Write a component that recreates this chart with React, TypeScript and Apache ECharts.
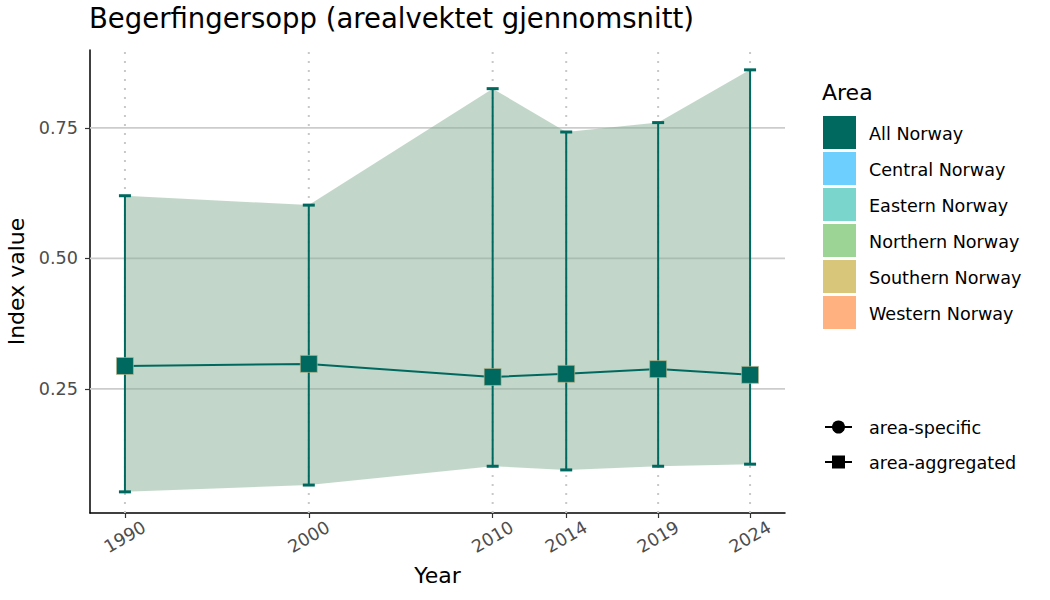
import React, { useEffect, useRef } from "react";
import * as echarts from "echarts";

const years = [1990, 2000, 2010, 2014, 2019, 2024];
const meanVals = [0.294, 0.298, 0.273, 0.279, 0.288, 0.277];
const upperVals = [0.620, 0.602, 0.825, 0.742, 0.760, 0.861];
const lowerVals = [0.053, 0.066, 0.102, 0.095, 0.102, 0.106];
const yTicks = [0.25, 0.5, 0.75];
const areaNames = ["All Norway", "Central Norway", "Eastern Norway", "Northern Norway", "Southern Norway", "Western Norway"];
const areaColors = ["#00695f", "#6dcffe", "#7ad6cc", "#9bd494", "#d8c67a", "#ffb27f"];
const shapeNames = ["area-specific", "area-aggregated"];

const FONT = "DejaVu Sans";
const LINE = "#00695f";
const X_MIN = 1988.1;
const X_MAX = 2025.9;
const Y_MIN = 0.0125;
const Y_MAX = 0.899;

export default function App() {
  const ref = useRef<HTMLDivElement>(null);
  useEffect(() => {
    if (!ref.current) return;
    const chart = echarts.init(ref.current, undefined, { renderer: "svg" });
    const legendItems: any[] = [];
    legendItems.push({
      type: "text", x: 822, y: 92,
      style: { text: "Area", font: `22px "${FONT}"`, fill: "#000", textVerticalAlign: "middle" },
    });
    areaNames.forEach((n, i) => {
      legendItems.push({
        type: "rect", shape: { x: 823, y: 116 + i * 36, width: 33, height: 33 },
        style: { fill: areaColors[i] },
      });
      legendItems.push({
        type: "text", x: 869, y: 133.5 + i * 36,
        style: { text: n, font: `17.6px "${FONT}"`, fill: "#000", textVerticalAlign: "middle" },
      });
    });
    shapeNames.forEach((n, i) => {
      const cy = 427 + i * 35;
      legendItems.push({ type: "line", shape: { x1: 825, y1: cy, x2: 852, y2: cy }, style: { stroke: "#000", lineWidth: 2 } });
      if (i === 0) legendItems.push({ type: "circle", shape: { cx: 838.5, cy, r: 6.5 }, style: { fill: "#000" } });
      else legendItems.push({ type: "rect", shape: { x: 832, y: cy - 6.5, width: 13, height: 13 }, style: { fill: "#000" } });
      legendItems.push({
        type: "text", x: 869, y: cy + 1,
        style: { text: n, font: `17.6px "${FONT}"`, fill: "#000", textVerticalAlign: "middle" },
      });
    });

    const ribbonData = years.map((y, i) => [y, lowerVals[i], upperVals[i]]);

    chart.setOption({
      animation: false,
      backgroundColor: "#fff",
      textStyle: { fontFamily: FONT },
      title: {
        text: "Begerfingersopp (arealvektet gjennomsnitt)",
        left: 89, top: 4, padding: 0,
        textStyle: { fontFamily: FONT, fontSize: 27.5, fontWeight: "normal", color: "#000" },
      },
      grid: { left: 90, right: 265, top: 50, bottom: 87, containLabel: false, outerBoundsMode: "none" },
      xAxis: {
        type: "value", min: X_MIN, max: X_MAX,
        name: "Year", nameLocation: "middle", nameGap: 51,
        nameTextStyle: { fontFamily: FONT, fontSize: 22, color: "#000" },
        axisLine: { show: true, onZero: false, lineStyle: { color: "#000", width: 1.5 } },
        axisTick: { show: true, customValues: years, length: 5, lineStyle: { color: "#333", width: 1.2 } },
        axisLabel: {
          customValues: years, rotate: 30, align: "center", verticalAlign: "middle", margin: 24,
          fontFamily: FONT, fontSize: 17.6, color: "#4d4d4d", formatter: (v: number) => String(v),
        },
        splitLine: { show: false },
      },
      yAxis: {
        type: "value", min: Y_MIN, max: Y_MAX,
        name: "Index value", nameLocation: "middle", nameGap: 58,
        nameTextStyle: { fontFamily: FONT, fontSize: 22, color: "#000" },
        axisLine: { show: true, onZero: false, lineStyle: { color: "#000", width: 1.5 } },
        axisTick: { show: true, customValues: yTicks, length: 5, lineStyle: { color: "#333", width: 1.2 } },
        axisLabel: {
          customValues: yTicks, margin: 12,
          fontFamily: FONT, fontSize: 17.6, color: "#4d4d4d", formatter: (v: number) => v.toFixed(2),
        },
        splitLine: { show: false },
      },
      series: [
        {
          type: "custom", z: 1, silent: true,
          data: [0],
          renderItem: (params: any, api: any) => {
            const children: any[] = [];
            yTicks.forEach((v) => {
              const a = api.coord([X_MIN, v]);
              const b = api.coord([X_MAX, v]);
              children.push({ type: "line", shape: { x1: a[0], y1: a[1], x2: b[0], y2: b[1] }, style: { stroke: "#cccccc", lineWidth: 1.8 } });
            });
            years.forEach((v) => {
              const a = api.coord([v, Y_MIN]);
              const b = api.coord([v, Y_MAX]);
              children.push({ type: "line", shape: { x1: a[0], y1: a[1], x2: b[0], y2: b[1] }, style: { stroke: "#c8c8c8", lineWidth: 2, lineDash: [2, 7] } });
            });
            return { type: "group", children };
          },
        },
        {
          type: "custom", z: 2, silent: true,
          data: ribbonData,
          renderItem: (params: any, api: any) => {
            if (params.dataIndex !== 0) return null;
            const up = ribbonData.map((d) => api.coord([d[0], d[2]]));
            const lo = ribbonData.map((d) => api.coord([d[0], d[1]])).reverse();
            return {
              type: "polygon",
              shape: { points: up.concat(lo) },
              style: { fill: "rgba(134,176,148,0.5)" },
            };
          },
        },
        {
          type: "custom", z: 3, silent: true,
          data: ribbonData,
          renderItem: (params: any, api: any) => {
            const x = api.value(0);
            const top = api.coord([x, api.value(2)]);
            const bot = api.coord([x, api.value(1)]);
            const w = 6;
            return {
              type: "group",
              children: [
                { type: "line", shape: { x1: top[0], y1: top[1], x2: bot[0], y2: bot[1] }, style: { stroke: LINE, lineWidth: 2 } },
                { type: "line", shape: { x1: top[0] - w, y1: top[1], x2: top[0] + w, y2: top[1] }, style: { stroke: LINE, lineWidth: 3 } },
                { type: "line", shape: { x1: bot[0] - w, y1: bot[1], x2: bot[0] + w, y2: bot[1] }, style: { stroke: LINE, lineWidth: 3 } },
              ],
            };
          },
        },
        {
          type: "line", z: 4, silent: true,
          data: years.map((y, i) => [y, meanVals[i]]),
          symbol: "rect", symbolSize: 17, showSymbol: true,
          lineStyle: { color: LINE, width: 2 },
          itemStyle: { color: LINE, borderColor: "#cdb98a", borderWidth: 0.6 },
        },
      ],
      graphic: legendItems,
    });
    return () => chart.dispose();
  }, []);
  return <div ref={ref} style={{ width: 1050, height: 600, position: "absolute", left: 0, top: 0 }} />;
}
